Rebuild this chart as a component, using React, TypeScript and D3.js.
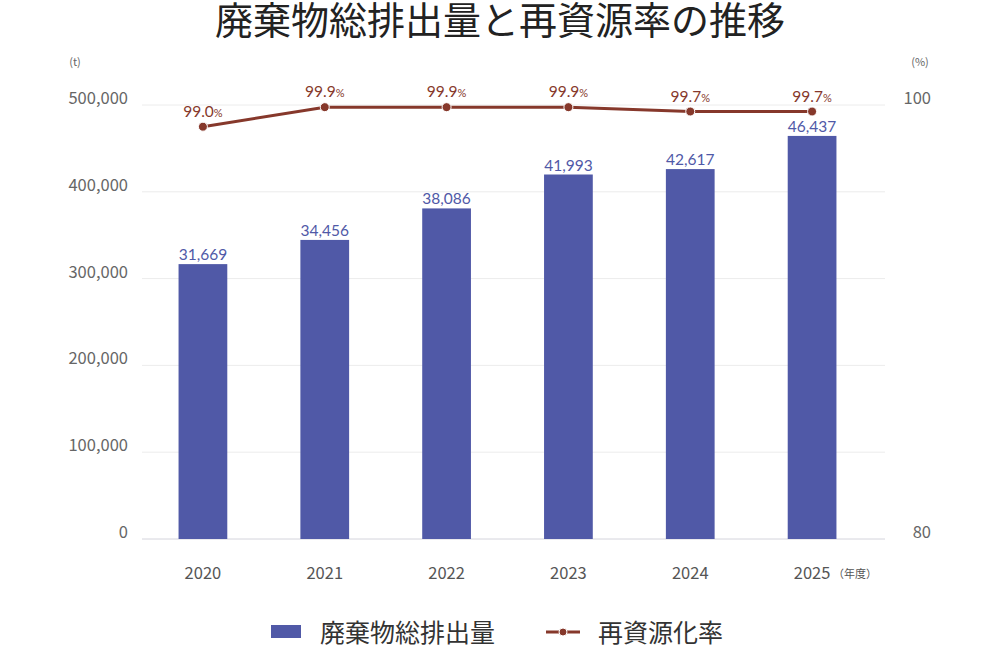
import * as d3 from "d3";

const years = ["2020", "2021", "2022", "2023", "2024", "2025"];
const emissions = [31669, 34456, 38086, 41993, 42617, 46437];
const recycleRate = [99.0, 99.9, 99.9, 99.9, 99.7, 99.7];
const leftTicks = [0, 10000, 20000, 30000, 40000, 50000];
const leftTickLabels = ["0", "100,000", "200,000", "300,000", "400,000", "500,000"];
const rightTicks = [80, 100];

const BAR = "#5059a7";
const LINE = "#86382b";
const JP = "'Noto Sans CJK JP', 'Noto Sans', sans-serif";
const NUM = "Lato, 'Noto Sans', sans-serif";

export default function App({
  width = 1000,
  height = 654,
  marginTop = 105,
  marginRight = 127,
  marginBottom = 115,
  marginLeft = 142,
  gridRight = 885,
}) {
  const x = d3
    .scaleBand()
    .domain(years)
    .range([marginLeft, width - marginRight])
    .paddingInner(0.6)
    .paddingOuter(0.3);
  const y = d3.scaleLinear([0, 50000], [height - marginBottom, marginTop]);
  const yR = d3.scaleLinear([80, 100], [height - marginBottom, marginTop]);
  const cx = (i: number) => (x(years[i]) ?? 0) + x.bandwidth() / 2;

  const line = d3.line<number>((d, i) => cx(i), (d) => yR(d));
  const fmt = d3.format(",");

  return (
    <svg
      width={width}
      height={height}
      style={{ position: "absolute", left: 0, top: 0, background: "#fff" }}
    >
      <text
        x={width / 2}
        y={34}
        textAnchor="middle"
        fontFamily={JP}
        fontSize={38}
        fill="#222"
      >
        廃棄物総排出量と再資源率の推移
      </text>

      <text x={75} y={66} textAnchor="middle" fontFamily={JP} fontSize={11} fill="#666">
        (t)
      </text>
      <text x={920} y={66} textAnchor="middle" fontFamily={JP} fontSize={11} fill="#666">
        (%)
      </text>

      {/* grid + left axis */}
      {leftTicks.map((t, i) => (
        <g key={t}>
          <line
            x1={marginLeft}
            x2={gridRight}
            y1={y(t)}
            y2={y(t)}
            stroke={t === 0 ? "#d4d4dc" : "#ececec"}
            strokeWidth={1}
          />
          <text
            x={128}
            y={y(t) - 1}
            textAnchor="end"
            fontFamily={JP}
            fontSize={16.5}
            fill="#666"
          >
            {leftTickLabels[i]}
          </text>
        </g>
      ))}

      {/* right axis */}
      {rightTicks.map((t) => (
        <text
          key={t}
          x={931}
          y={yR(t) - 1}
          textAnchor="end"
          fontFamily={JP}
          fontSize={16.5}
          fill="#666"
        >
          {t}
        </text>
      ))}

      {/* bars */}
      {emissions.map((d, i) => (
        <g key={years[i]}>
          <rect
            x={x(years[i])}
            y={y(d)}
            width={x.bandwidth()}
            height={y(0) - y(d)}
            fill={BAR}
          />
          <text
            x={cx(i)}
            y={y(d) - 4}
            textAnchor="middle"
            fontFamily={NUM}
            fontSize={15.5}
            fill={BAR}
          >
            {fmt(d)}
          </text>
        </g>
      ))}

      {/* x axis labels */}
      {years.map((yr, i) => (
        <text
          key={yr}
          x={cx(i)}
          y={579}
          textAnchor="middle"
          fontFamily={JP}
          fontSize={16.5}
          fill="#555"
        >
          {yr}
        </text>
      ))}
      <text x={cx(5) + 21} y={578} fontFamily={JP} fontSize={11} fill="#555">
        （年度）
      </text>

      {/* recycle rate line */}
      <path d={line(recycleRate) ?? ""} fill="none" stroke={LINE} strokeWidth={3} />
      {recycleRate.map((d, i) => (
        <g key={years[i]}>
          <circle cx={cx(i)} cy={yR(d)} r={4.5} fill={LINE} stroke="#fff" strokeWidth={1} />
          <text
            x={cx(i)}
            y={yR(d) - 10}
            textAnchor="middle"
            fontFamily={NUM}
            fontSize={15.5}
            fill={LINE}
          >
            {d.toFixed(1)}
            <tspan fontSize={11}>%</tspan>
          </text>
        </g>
      ))}

      {/* legend */}
      <rect x={271} y={625} width={30} height={13} fill={BAR} />
      <text x={320} y={642} fontFamily={JP} fontSize={25} fill="#333">
        廃棄物総排出量
      </text>
      <line x1={546} x2={580} y1={632} y2={632} stroke={LINE} strokeWidth={3} />
      <circle cx={563} cy={632} r={4} fill={LINE} stroke="#fff" strokeWidth={1} />
      <text x={598} y={642} fontFamily={JP} fontSize={25} fill="#333">
        再資源化率
      </text>
    </svg>
  );
}
